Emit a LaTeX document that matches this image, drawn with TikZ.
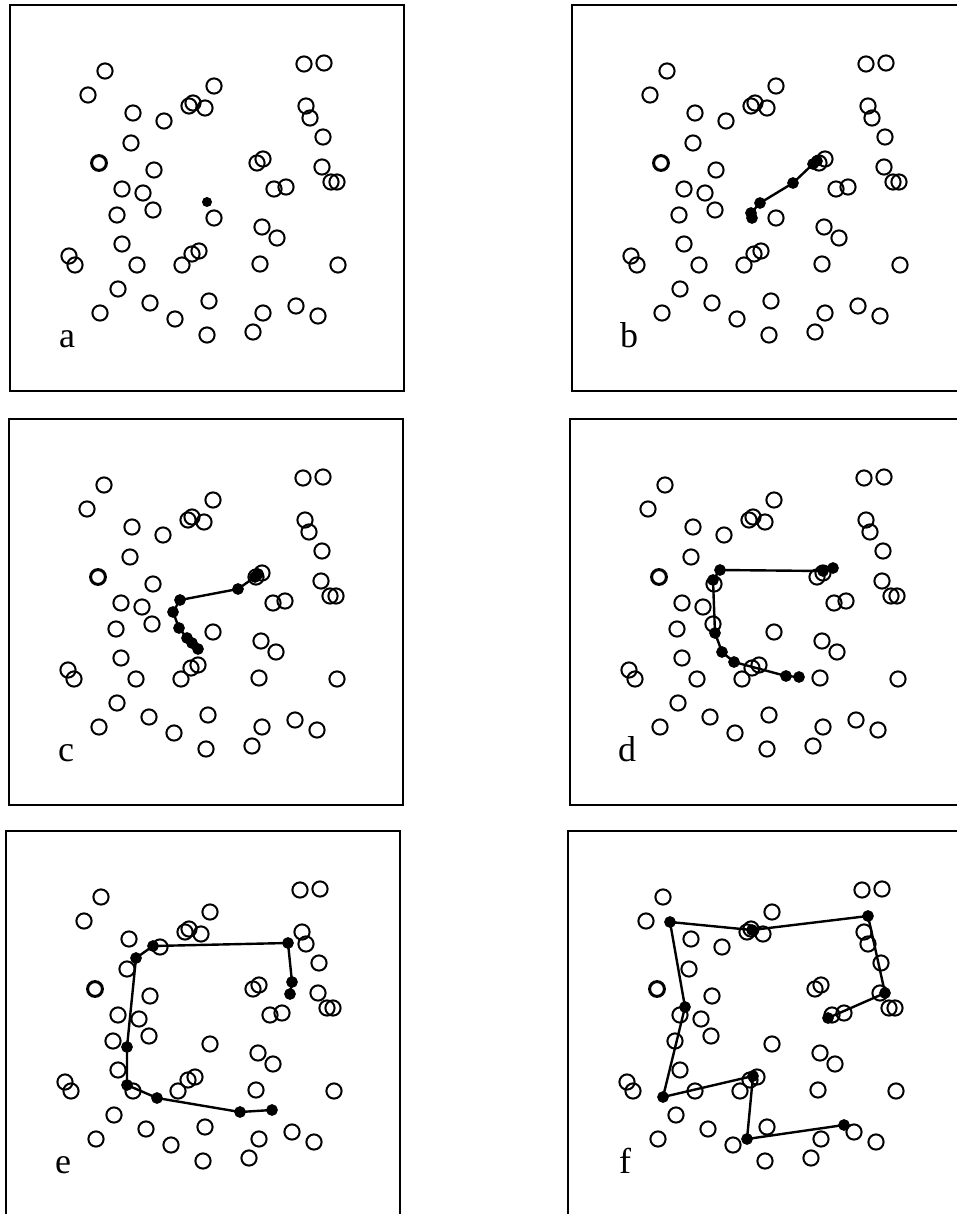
\documentclass[tikz,border=0pt]{standalone}
\usepackage{fontspec}
\setmainfont{Liberation Serif}

% the open circles, the same in every panel
\newcommand{\field}[1]{%
  \draw[frame] (10,5) rectangle (404,391);
  \foreach \x/\y in {105/71, 88/95, 133/113, 164/121, 189/106, 193/103,
      205/108, 214/86, 131/143, 154/170, 122/189, 143/193, 153/210,
      117/215, 214/218, 122/244, 69/256, 75/265, 137/265, 182/265,
      192/254, 199/251, 118/289, 100/313, 150/303, 175/319, 209/301,
      207/335, 304/64, 324/63, 306/106, 310/118, 323/137, 322/167,
      331/182, 337/182, 257/163, 263/159, 274/189, 286/187, 262/227,
      277/238, 260/264, 338/265, 296/306, 318/316, 263/313, 253/332}
    \draw[ring] (\x,\y) circle[radius=7.6pt];
  \draw[ring, line width=3pt] (99,163) circle[radius=7.4pt]; % double one
  \node[tag] (#1) at (67,347) {#1};
}

\begin{document}
\begin{tikzpicture}[x=1pt, y=-1pt,
    frame/.style={line width=1.6pt},
    ring/.style={line width=2pt},
    walk/.style={line width=2.4pt, mark=*, mark size=4.6pt},
    tag/.style={anchor=base, font=\fontsize{36}{40}\selectfont}]
  \useasboundingbox (0,0) rectangle (957,1214);

  % a
  \field{a}
  \fill (207,202) circle[radius=5pt];

  % b
  \begin{scope}[shift={(562,0)}]
    \field{b}
    \draw[walk] plot coordinates {(190,218) (189,213) (198,203) (231,183)
      (251,164) (255,161)};
  \end{scope}

  % c
  \begin{scope}[shift={(-1,414)}]
    \field{c}
    \draw[walk] plot coordinates {(259,160) (256,163) (239,175) (181,186)
      (174,198) (180,214) (188,224) (193,229) (199,235)};
  \end{scope}

  % d
  \begin{scope}[shift={(560,414)}]
    \field{d}
    \draw[walk] plot coordinates {(273,154) (263,157) (160,156) (153,166)
      (155,219) (162,238) (174,248) (226,262) (239,263)};
  \end{scope}

  % e
  \begin{scope}[shift={(-4,826)}]
    \field{e}
    \draw[walk] plot coordinates {(294,168) (296,156) (292,117) (157,120)
      (140,132) (131,221) (131,259) (161,272) (244,286) (276,284)};
  \end{scope}

  % f
  \begin{scope}[shift={(558,826)}]
    \field{f}
    \draw[walk] plot coordinates {(270,192) (327,167) (310,90) (194,104)
      (112,96) (127,181) (105,271) (195,250) (189,313) (286,299)};
  \end{scope}
\end{tikzpicture}
\end{document}
